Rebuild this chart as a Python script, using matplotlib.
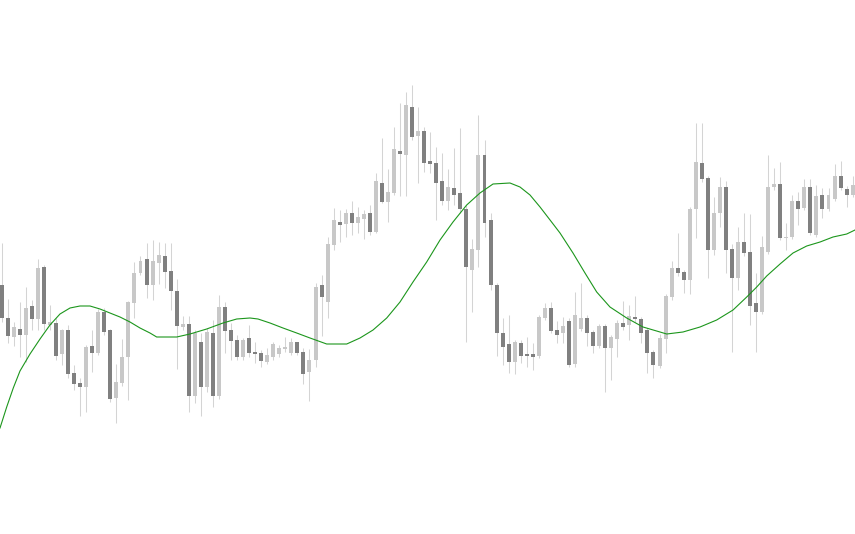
import numpy as np
import matplotlib.pyplot as plt

# candle prices (open / high / low / close)
opens = [249, 216, 197, 205, 199, 228, 215, 267, 209, 211, 180, 204, 161, 151, 147, 188, 181, 222, 204, 136,
         151, 177, 231, 261, 275, 249, 271, 278, 263, 243, 207, 210, 138, 192, 147, 201, 138, 227, 204, 194,
         177, 196, 182, 181, 172, 177, 180, 185, 181, 192, 182, 162, 174, 249, 232, 289, 312, 310, 321, 311,
         315, 321, 302, 351, 332, 341, 383, 379, 427, 398, 403, 373, 371, 353, 333, 346, 341, 325, 264, 284,
         379, 314, 249, 201, 190, 172, 191, 180, 180, 178, 216, 226, 204, 201, 213, 170, 205, 216, 202, 188,
         208, 186, 195, 211, 209, 217, 215, 204, 182, 168, 195, 237, 266, 262, 254, 325, 371, 356, 284, 321,
         347, 285, 256, 292, 282, 231, 222, 282, 347, 350, 296, 297, 333, 326, 347, 299, 339, 325, 335, 358,
         345, 339]
highs = [291, 235, 212, 232, 247, 234, 275, 269, 229, 216, 205, 209, 169, 156, 189, 204, 225, 226, 205, 170,
         195, 233, 272, 278, 291, 294, 292, 291, 291, 255, 218, 218, 204, 201, 206, 214, 239, 232, 211, 199,
         196, 209, 192, 184, 186, 192, 189, 197, 196, 192, 186, 185, 251, 259, 297, 326, 324, 325, 333, 327,
         324, 329, 361, 396, 365, 407, 431, 442, 449, 427, 407, 402, 387, 381, 365, 386, 406, 329, 295, 419,
         394, 321, 251, 216, 219, 194, 194, 197, 191, 219, 231, 232, 213, 217, 216, 242, 251, 219, 204, 210,
         210, 199, 214, 233, 229, 238, 217, 206, 184, 200, 240, 273, 301, 264, 327, 411, 411, 358, 337, 357,
         353, 290, 307, 321, 320, 261, 298, 379, 366, 372, 311, 339, 342, 355, 355, 349, 346, 346, 370, 373,
         348, 358]
lows = [212, 191, 188, 177, 172, 204, 204, 204, 204, 174, 169, 156, 144, 118, 122, 162, 179, 199, 132, 111,
        148, 134, 216, 259, 236, 234, 250, 246, 224, 165, 204, 122, 131, 118, 142, 127, 135, 181, 174, 174,
        174, 177, 171, 167, 170, 174, 177, 182, 179, 179, 150, 133, 167, 198, 216, 284, 292, 297, 299, 301,
        295, 299, 301, 331, 312, 339, 338, 338, 394, 351, 362, 361, 314, 329, 324, 329, 321, 192, 222, 267,
        297, 244, 178, 169, 161, 160, 171, 167, 164, 176, 214, 201, 191, 191, 167, 167, 203, 188, 181, 186,
        142, 154, 177, 204, 194, 212, 191, 161, 156, 166, 181, 234, 258, 241, 240, 296, 352, 256, 279, 307,
        261, 182, 244, 278, 209, 182, 220, 280, 344, 294, 284, 295, 309, 324, 299, 297, 316, 323, 333, 344,
        327, 337]
closes = [216, 198, 207, 199, 226, 215, 266, 210, 212, 178, 204, 160, 150, 147, 187, 181, 222, 202, 135, 152,
          177, 232, 261, 273, 249, 273, 279, 262, 243, 208, 210, 138, 201, 147, 202, 138, 227, 203, 193, 177,
          194, 181, 180, 173, 179, 190, 186, 187, 192, 181, 160, 174, 247, 237, 290, 314, 309, 321, 311, 317,
          320, 302, 353, 332, 342, 385, 380, 429, 397, 403, 371, 370, 351, 333, 347, 339, 325, 267, 285, 379,
          311, 249, 201, 187, 172, 192, 178, 178, 177, 217, 226, 203, 199, 208, 169, 219, 216, 201, 188, 208,
          186, 197, 211, 207, 218, 215, 201, 181, 169, 196, 238, 266, 261, 254, 325, 372, 355, 284, 321, 347,
          284, 256, 292, 281, 228, 222, 287, 347, 350, 296, 297, 333, 325, 347, 301, 338, 325, 339, 358, 346,
          339, 349]

# smooth indicator line: (bar position, value) samples
ma_pos = [-0.28, 0.83, 1.92, 3.03, 4.69, 6.35, 8.0, 9.66, 11.32, 12.97, 14.63, 16.29, 17.94, 19.6, 21.26,
          22.92, 24.57, 25.68, 29.0, 31.2, 33.97, 36.67, 38.94, 41.14, 42.47, 44.46, 46.61, 48.88, 51.09,
          53.85, 57.17, 59.37, 61.53, 63.8, 66.0, 68.15, 70.42, 72.63, 74.78, 77.05, 79.25, 81.41, 84.22,
          85.88, 87.54, 89.2, 90.86, 92.51, 94.66, 96.65, 98.59, 100.79, 103.56, 106.26, 109.08, 110.19,
          112.89, 115.71, 118.47, 121.18, 123.45, 125.11, 126.76, 128.97, 131.12, 133.39, 135.6, 137.75,
          140.02, 141.39]
ma_val = [106, 127, 146, 163, 180, 195, 209, 220, 226, 228, 228, 225, 221, 217, 212,
          206, 201, 197, 197, 200, 205, 211, 215, 216, 215, 211, 206, 201, 196,
          190, 190, 196, 204, 216, 232, 252, 272, 294, 312, 329, 341, 350, 351,
          347, 339, 327, 314, 301, 281, 261, 242, 227, 216, 207, 202, 200,
          202, 207, 214, 224, 237, 247, 258, 270, 281, 288, 292, 297,
          300, 304]

o = np.array(opens)
c = np.array(closes)
h = np.array(highs)
l = np.array(lows)
x = np.arange(len(o))
up = c >= o

fig = plt.figure(figsize=(8.55, 5.34), dpi=100)
ax = fig.add_axes([0, 0, 1, 1])

# wicks
ax.vlines(x, l, h, color='#d4d4d4', linewidth=0.75, zorder=1)

# bodies
bottom = np.minimum(o, c)
height = np.maximum(np.abs(c - o), 1.2)
ax.bar(x[up], height[up], bottom=bottom[up], width=0.66, color='#c8c8c8', zorder=2)
ax.bar(x[~up], height[~up], bottom=bottom[~up], width=0.66, color='#808080', zorder=2)

# indicator
ax.plot(ma_pos, ma_val, color='#1c961c', linewidth=0.8, zorder=3)

ax.set_xlim(-0.28, 141.39)
ax.set_ylim(0, 534)
ax.axis('off')

fig.savefig('out.png', dpi=100, facecolor='white')
